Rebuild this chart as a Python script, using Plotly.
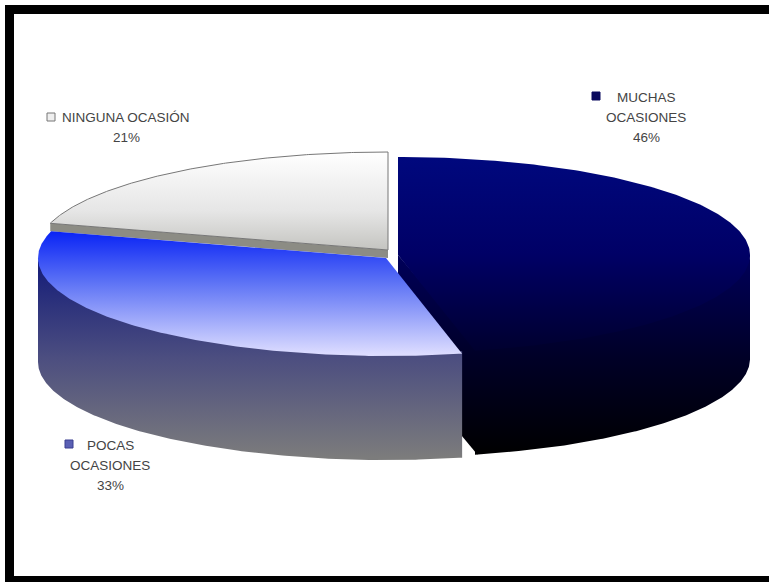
import numpy as np
import plotly.graph_objects as go

categories = ["MUCHAS OCASIONES", "POCAS OCASIONES", "NINGUNA OCASIÓN"]
values = [46.49, 32.9, 20.61]
percent_labels = ["46%", "33%", "21%"]
label_lines = [["MUCHAS", "OCASIONES", "46%"], ["POCAS", "OCASIONES", "33%"], ["NINGUNA OCASIÓN", "21%"]]

W, H = 769, 582
RY, DEPTH = 98, 104
RXS = {0: 352, 1: 348, 2: 351}
CENTERS = {0: (398, 255), 1: (386, 258), 2: (388, 250)}
SEAM = 2.5  # overlap so that neighbouring fills leave no antialiasing gap

total = sum(values)
edges = np.cumsum([0] + values) / total * 2 * np.pi


def pts(i, th, drop=0.0):
    cx, cy = CENTERS[i]
    return cx + RXS[i] * np.sin(th), cy - RY * np.cos(th) + drop


def poly(x, y, y0, y1, stops, line=None):
    return go.Scatter(
        x=np.asarray(x), y=np.asarray(y), mode="lines", fill="toself",
        fillgradient=dict(type="vertical", start=y0, stop=y1, colorscale=[[a, b] for a, b in stops]),
        line=line or dict(width=0, color="rgba(0,0,0,0)"),
        hoverinfo="skip", showlegend=False,
    )


def top(i, stops, y0, y1, line=None):
    th = np.linspace(edges[i], edges[i + 1], 200)
    x, y = pts(i, th)
    cx, cy = CENTERS[i]
    return poly(np.r_[cx, x, cx], np.r_[cy, y, cy], y0, y1, stops, line)


def wall(i, a, b, stops, y0, y1):
    th = np.linspace(a, b, 200)
    x, y = pts(i, th, -SEAM)
    xb, yb = pts(i, th[::-1], DEPTH)
    return poly(np.r_[x, xb, x[0]], np.r_[y, yb, y[0]], y0, y1, stops)


def cut(i, th, depth, stops, y0, y1, overlap=0.0):
    cx, cy = CENTERS[i]
    x, y = pts(i, np.array([th]))
    return poly([cx, x[0] + overlap * 2, x[0] + overlap, cx, cx],
                [cy, y[0], y[0] + depth, cy + depth, cy], y0, y1, stops)


fig = go.Figure()

# dark slice
dark_wall = [(0, "#00005a"), (0.5, "#000028"), (1, "#000000")]
fig.add_trace(cut(0, edges[1], DEPTH, dark_wall, 255, 455, overlap=SEAM))
fig.add_trace(wall(0, np.pi / 2, edges[1], dark_wall, 255, 455))
fig.add_trace(top(0, [(0, "#00087e"), (0.5, "#000066"), (1, "#00002e")], 156, 352))

# light slice
fig.add_trace(cut(2, edges[2], 8, [(0, "#8c8c84"), (1, "#8c8c84")], 222, 260))
fig.add_trace(top(2, [(0, "#ffffff"), (0.6, "#e6e6e6"), (1, "#c4c4c0")], 152, 250,
                  dict(width=1, color="#777777")))

# mid-blue slice
fig.add_trace(wall(1, edges[1], 3 * np.pi / 2,
                   [(0, "#121a78"), (0.5, "#4c4e80"), (1, "#7c7c7c")], 258, 458))
fig.add_trace(top(1, [(0, "#0a24f5"), (0.4, "#5a70f5"), (1, "#dcdcff")], 232, 354))

# legend keys
keys_x = [596, 69, 51]
keys_y = [96, 444, 117]
key_fill = ["#0b0b5e", "#5a60b4", "#efefef"]
key_line = ["#0b0b5e", "#3a3f90", "#777777"]
fig.add_trace(go.Scatter(
    x=keys_x, y=keys_y, mode="markers",
    marker=dict(symbol="square", size=8, color=key_fill, line=dict(width=1, color=key_line)),
    hoverinfo="skip", showlegend=False,
))

# labels
label_x = [646, 110, 126]
label_y = [97, 445, 117]
line_step = 20
annotations = []
for lines, lx, ly in zip(label_lines, label_x, label_y):
    for k, t in enumerate(lines):
        annotations.append(dict(
            x=lx, y=ly + k * line_step, text=t, xref="x", yref="y", showarrow=False,
            xanchor="center", yanchor="middle",
            font=dict(family="Liberation Sans", size=13.5, color="#444444"),
        ))

frame = [
    dict(type="rect", x0=5, x1=769, y0=5, y1=14),
    dict(type="rect", x0=5, x1=14, y0=5, y1=582),
    dict(type="rect", x0=5, x1=769, y0=576, y1=582),
]
shapes = [dict(s, fillcolor="#000000", line=dict(width=0), xref="x", yref="y") for s in frame]

fig.update_layout(
    width=W, height=H, margin=dict(l=0, r=0, t=0, b=0),
    paper_bgcolor="white", plot_bgcolor="white",
    xaxis=dict(range=[0, W], visible=False, fixedrange=True),
    yaxis=dict(range=[H, 0], visible=False, fixedrange=True),
    annotations=annotations, shapes=shapes, showlegend=False,
)
fig.write_html(
    "out.html", config=dict(displayModeBar=False),
    post_script="document.body.style.margin='0';document.body.style.overflow='hidden';",
)
